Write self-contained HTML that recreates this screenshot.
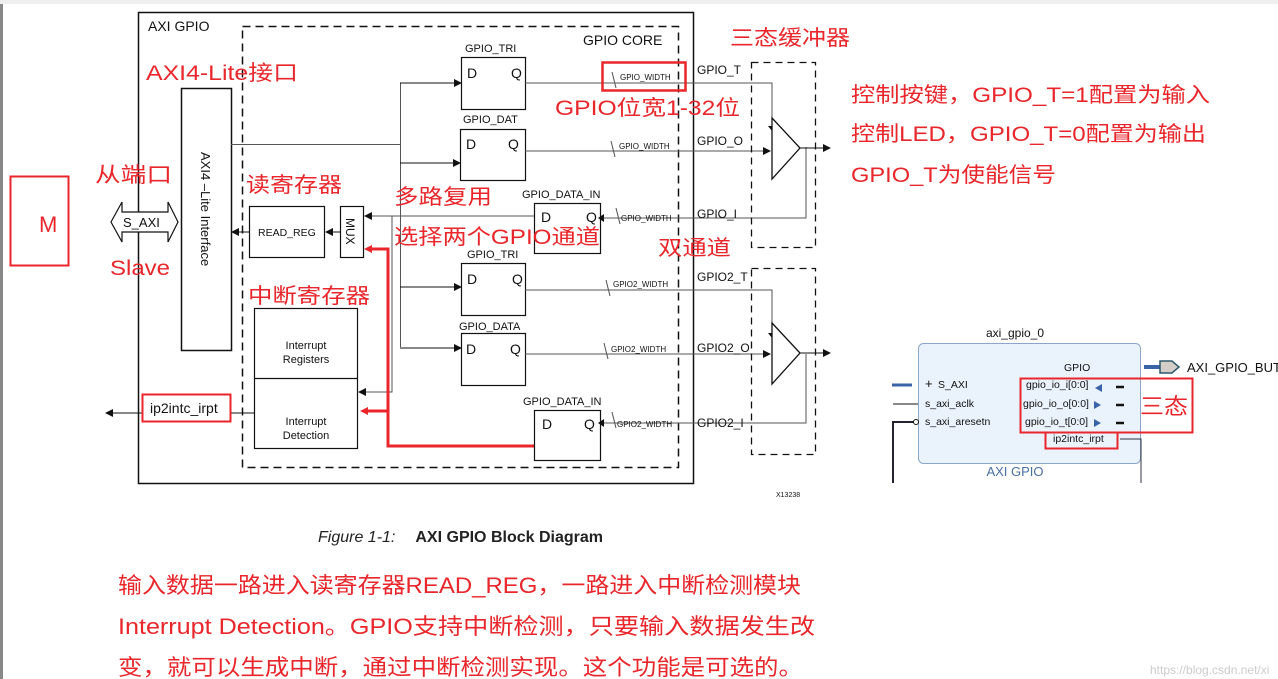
<!DOCTYPE html>
<html><head><meta charset="utf-8"><style>
body{margin:0;background:#fff;}
svg{display:block;}
.t{font-family:"Liberation Sans",sans-serif;fill:#111;}
.r{font-family:"Liberation Sans","Noto Sans CJK SC",sans-serif;fill:#e8262b;}
</style></head><body>
<svg width="1278" height="679" viewBox="0 0 1278 679" xmlns="http://www.w3.org/2000/svg">
<defs>
<marker id="a" markerWidth="8" markerHeight="8" refX="7" refY="4" orient="auto" markerUnits="userSpaceOnUse"><path d="M0,0 L8,4 L0,8z" fill="#111"/></marker>
</defs>
<rect x="0" y="0" width="3" height="679" fill="#888"/>
<rect x="0" y="0" width="1278" height="4" fill="#eee"/>
<!-- outer -->
<rect x="138.5" y="12.5" width="555" height="471" fill="none" stroke="#111" stroke-width="1.5"/>
<text class="t" x="148" y="31" font-size="14">AXI GPIO</text>
<rect x="242.5" y="26.5" width="436" height="441" fill="none" stroke="#111" stroke-width="1.5" stroke-dasharray="8,5"/>
<text class="t" x="583" y="45" font-size="14">GPIO CORE</text>
<!-- AXI4 lite -->
<rect x="181.5" y="88.5" width="50" height="262" fill="#fff" stroke="#111" stroke-width="1.5"/>
<text class="t" font-size="13" transform="translate(201,152) rotate(90)">AXI4 –Lite Interface</text>
<!-- S_AXI double arrow -->
<path d="M111,222 L122,202 L122,212 L168,212 L168,202 L178,222 L168,242 L168,232 L122,232 L122,242 Z" fill="#fff" stroke="#111" stroke-width="1.2"/>
<text class="t" x="123" y="227" font-size="13">S_AXI</text>
<rect x="10.5" y="176.5" width="58" height="89" fill="none" stroke="#e8262b" stroke-width="2"/>
<text class="r" x="39" y="232" font-size="22">M</text>
<text class="r" x="95" y="182" font-size="21" textLength="77" lengthAdjust="spacingAndGlyphs">从端口</text>
<text class="r" x="110" y="275" font-size="21" textLength="60" lengthAdjust="spacingAndGlyphs">Slave</text>
<text class="r" x="146" y="80" font-size="21" textLength="152" lengthAdjust="spacingAndGlyphs">AXI4-Lite接口</text>
<!-- read reg, mux -->
<rect x="249.5" y="206.5" width="75" height="51" fill="#fff" stroke="#111" stroke-width="1.2"/>
<text class="t" x="258" y="236" font-size="10.5">READ_REG</text>
<rect x="340.5" y="206.5" width="23" height="51" fill="#fff" stroke="#111" stroke-width="1.2"/>
<text class="t" font-size="12" transform="translate(346,218) rotate(90)">MUX</text>
<line x1="340" y1="232" x2="326" y2="232" stroke="#111" marker-end="url(#a)"/>
<line x1="249" y1="232" x2="232" y2="232" stroke="#111" marker-end="url(#a)"/>
<text class="r" x="246" y="192" font-size="21" textLength="96" lengthAdjust="spacingAndGlyphs">读寄存器</text>
<!-- interrupt -->
<rect x="254.5" y="308.5" width="103" height="140" fill="#fff" stroke="#111" stroke-width="1.2"/>
<line x1="254" y1="378.5" x2="357" y2="378.5" stroke="#111" stroke-width="1.2"/>
<text class="t" x="306" y="349" font-size="11" text-anchor="middle">Interrupt</text>
<text class="t" x="306" y="363" font-size="11" text-anchor="middle">Registers</text>
<text class="t" x="306" y="425" font-size="11" text-anchor="middle">Interrupt</text>
<text class="t" x="306" y="439" font-size="11" text-anchor="middle">Detection</text>
<text class="r" x="248" y="303" font-size="21" textLength="122" lengthAdjust="spacingAndGlyphs">中断寄存器</text>
<line x1="254" y1="413" x2="106" y2="413" stroke="#111" marker-end="url(#a)"/>
<rect x="142.5" y="394.5" width="88" height="27" fill="#fff" stroke="#e8262b" stroke-width="2"/>
<text class="t" x="150" y="413" font-size="14">ip2intc_irpt</text>
<!-- bus lines -->
<g stroke="#555" stroke-width="1" fill="none">
<line x1="231" y1="144.5" x2="400" y2="144.5"/>
<line x1="400.5" y1="83" x2="400.5" y2="347"/>
<line x1="534" y1="216" x2="365" y2="216" marker-end="url(#a)"/>
<polyline points="392,216 392,392 359,392" marker-end="url(#a)"/>
</g>
<g stroke="#111" marker-end="url(#a)">
<line x1="400" y1="83" x2="461" y2="83"/>
<line x1="400" y1="163" x2="460" y2="163"/>
<line x1="400" y1="287" x2="461" y2="287"/>
<line x1="400" y1="348" x2="461" y2="348"/>
</g>
<!-- red lines -->
<g stroke="#e8262b" stroke-width="3" fill="none">
<polyline points="368,249 388,249 388,446 534,446"/>
<line x1="368" y1="411" x2="388" y2="411"/>
</g>
<path d="M364,249 L372,245 L372,253z M360,411 L368,407 L368,415z" fill="#e8262b"/>
<!-- registers -->
<g fill="#fff" stroke="#111" stroke-width="1.2">
<rect x="461.5" y="57.5" width="64" height="52"/>
<rect x="460.5" y="129.5" width="65" height="51"/>
<rect x="534.5" y="203.5" width="66" height="50"/>
<rect x="461.5" y="263.5" width="64" height="52"/>
<rect x="461.5" y="333.5" width="64" height="52"/>
<rect x="534.5" y="410.5" width="66" height="50"/>
</g>
<g class="t" font-size="11">
<text x="465" y="52">GPIO_TRI</text>
<text x="463" y="123">GPIO_DAT</text>
<text x="522" y="198">GPIO_DATA_IN</text>
<text x="467" y="258">GPIO_TRI</text>
<text x="459" y="330">GPIO_DATA</text>
<text x="523" y="405">GPIO_DATA_IN</text>
</g>
<g class="t" font-size="14">
<text x="467" y="78">D</text><text x="511" y="78">Q</text>
<text x="466" y="149">D</text><text x="508" y="149">Q</text>
<text x="541" y="222">D</text><text x="586" y="222">Q</text>
<text x="467" y="284">D</text><text x="512" y="284">Q</text>
<text x="466" y="354">D</text><text x="510" y="354">Q</text>
<text x="542" y="429">D</text><text x="584" y="429">Q</text>
</g>
<!-- outputs -->
<g stroke="#555" fill="none">
<polyline points="525,83 772,83 772,128"/>
<line x1="525" y1="151" x2="770" y2="151"/>
<polyline points="806,147 806,218 604,218"/>
<polyline points="525,290 772,290 772,335"/>
<line x1="525" y1="354" x2="770" y2="354"/>
<polyline points="806,354 806,423 604,423"/>
<line x1="612" y1="72" x2="616" y2="88"/><line x1="611" y1="141" x2="615" y2="157"/>
<line x1="616" y1="208" x2="620" y2="224"/><line x1="606" y1="280" x2="610" y2="296"/>
<line x1="604" y1="343" x2="608" y2="359"/><line x1="612" y1="412" x2="616" y2="428"/>
</g>
<path d="M768,126 L772,131 L776,126z M768,333 L772,338 L776,333z" fill="#111"/>
<path d="M763,147 L771,151 L763,155z M763,350 L771,354 L763,358z M604,214 L598,218 L604,222z M604,419 L598,423 L604,427z" fill="#111"/>
<g class="t" font-size="8">
<text x="620" y="80">GPIO_WIDTH</text><text x="619" y="149">GPIO_WIDTH</text>
<text x="621" y="221">GPIO_WIDTH</text><text x="613" y="287">GPIO2_WIDTH</text>
<text x="611" y="352">GPIO2_WIDTH</text><text x="617" y="427">GPIO2_WIDTH</text>
</g>
<rect x="602.5" y="62.5" width="83" height="28" fill="none" stroke="#e8262b" stroke-width="2.5"/>
<g class="t" font-size="12">
<text x="697" y="74">GPIO_T</text><text x="697" y="145">GPIO_O</text><text x="697" y="218">GPIO_I</text>
<text x="697" y="281">GPIO2_T</text><text x="697" y="352">GPIO2_O</text><text x="697" y="427">GPIO2_I</text>
</g>
<!-- buffers -->
<g fill="none" stroke="#111" stroke-width="1.3" stroke-dasharray="7,5">
<rect x="751.5" y="62.5" width="64" height="185"/>
<rect x="751.5" y="268.5" width="64" height="186"/>
</g>
<g fill="#fff" stroke="#111" stroke-width="1.3">
<path d="M772,118 L800,148 L772,179z"/>
<path d="M772,323 L800,353 L772,384z"/>
</g>
<g stroke="#111" marker-end="url(#a)"><line x1="800" y1="148" x2="830" y2="148"/><line x1="800" y1="353" x2="830" y2="353"/></g>
<!-- annotations -->
<g class="r" font-size="21" lengthAdjust="spacingAndGlyphs">
<text x="730" y="45" textLength="120" lengthAdjust="spacingAndGlyphs">三态缓冲器</text>
<text x="851" y="102" textLength="359" lengthAdjust="spacingAndGlyphs">控制按键，GPIO_T=1配置为输入</text>
<text x="851" y="141" textLength="355" lengthAdjust="spacingAndGlyphs">控制LED，GPIO_T=0配置为输出</text>
<text x="851" y="182" textLength="205" lengthAdjust="spacingAndGlyphs">GPIO_T为使能信号</text>
<text x="555" y="115" textLength="185" lengthAdjust="spacingAndGlyphs">GPIO位宽1-32位</text>
<text x="394" y="204" textLength="98" lengthAdjust="spacingAndGlyphs">多路复用</text>
<text x="394" y="244" textLength="206" lengthAdjust="spacingAndGlyphs">选择两个GPIO通道</text>
<text x="658" y="255" textLength="73" lengthAdjust="spacingAndGlyphs">双通道</text>
</g>
<!-- right block -->
<text class="t" x="1015" y="337" font-size="12" text-anchor="middle">axi_gpio_0</text>
<rect x="918.5" y="343.5" width="222" height="120" rx="5" fill="#eaf2fc" stroke="#8aa6c8"/>
<text x="1015" y="476" font-size="13" text-anchor="middle" font-family="Liberation Sans,sans-serif" fill="#4a6fa5">AXI GPIO</text>
<g class="t" font-size="10.5">
<text x="1064" y="371">GPIO</text>
<text x="938" y="388">S_AXI</text>
<text x="925" y="407">s_axi_aclk</text>
<text x="925" y="425">s_axi_aresetn</text>
<text x="1026" y="388">gpio_io_i[0:0]</text>
<text x="1023" y="407">gpio_io_o[0:0]</text>
<text x="1025" y="425">gpio_io_t[0:0]</text>
<text x="1053" y="442">ip2intc_irpt</text>
</g>
<text class="t" x="925" y="388" font-size="13" fill="#335">+</text>
<path d="M1102,384 L1095,388 L1102,392z M1094,401 L1101,405 L1094,409z M1094,419 L1101,423 L1094,427z" fill="#3a63a8"/>
<line x1="1144" y1="367" x2="1160" y2="367" stroke="#3a63a8" stroke-width="4"/>
<path d="M1160,361 L1172,361 L1179,367 L1172,373 L1160,373z" fill="#d5cdc8" stroke="#2c5a6a" stroke-width="1.5"/>
<text class="t" x="1187" y="372" font-size="13">AXI_GPIO_BUT</text>
<line x1="892" y1="385" x2="912" y2="385" stroke="#3a63a8" stroke-width="3"/>
<line x1="893" y1="404" x2="918" y2="404" stroke="#111"/>
<polyline points="893,483 893,422 914,422" fill="none" stroke="#223" stroke-width="2"/>
<circle cx="916" cy="422" r="2.5" fill="#fff" stroke="#111"/>
<polyline points="1120,439 1141,439 1141,483" fill="none" stroke="#334"/>
<g stroke="#111" stroke-width="2.5"><line x1="1116" y1="387" x2="1124" y2="387"/><line x1="1116" y1="405" x2="1124" y2="405"/><line x1="1116" y1="423" x2="1124" y2="423"/></g>
<rect x="1020.5" y="378.5" width="172" height="54" fill="none" stroke="#e8262b" stroke-width="2"/>
<rect x="1045.5" y="432.5" width="72" height="16" fill="none" stroke="#e8262b" stroke-width="2"/>
<text class="r" x="1140" y="414" font-size="22" textLength="48" lengthAdjust="spacingAndGlyphs">三态</text>
<text class="t" x="776" y="497" font-size="7">X13238</text>
<!-- caption -->
<text x="318" y="542" font-size="16" font-family="Liberation Sans,sans-serif" fill="#222"><tspan font-style="italic">Figure 1-1:</tspan><tspan dx="20" font-weight="bold">AXI GPIO Block Diagram</tspan></text>
<g class="r" font-size="22">
<text x="118" y="593" textLength="683" lengthAdjust="spacingAndGlyphs">输入数据一路进入读寄存器READ_REG，一路进入中断检测模块</text>
<text x="118" y="634" textLength="697" lengthAdjust="spacingAndGlyphs">Interrupt Detection。GPIO支持中断检测，只要输入数据发生改</text>
<text x="118" y="675" textLength="685" lengthAdjust="spacingAndGlyphs">变，就可以生成中断，通过中断检测实现。这个功能是可选的。</text>
</g>
<text x="1150" y="674" font-size="12" font-family="Liberation Sans,sans-serif" fill="#ccc">https://blog.csdn.net/xi</text>
</svg>
</body></html>
